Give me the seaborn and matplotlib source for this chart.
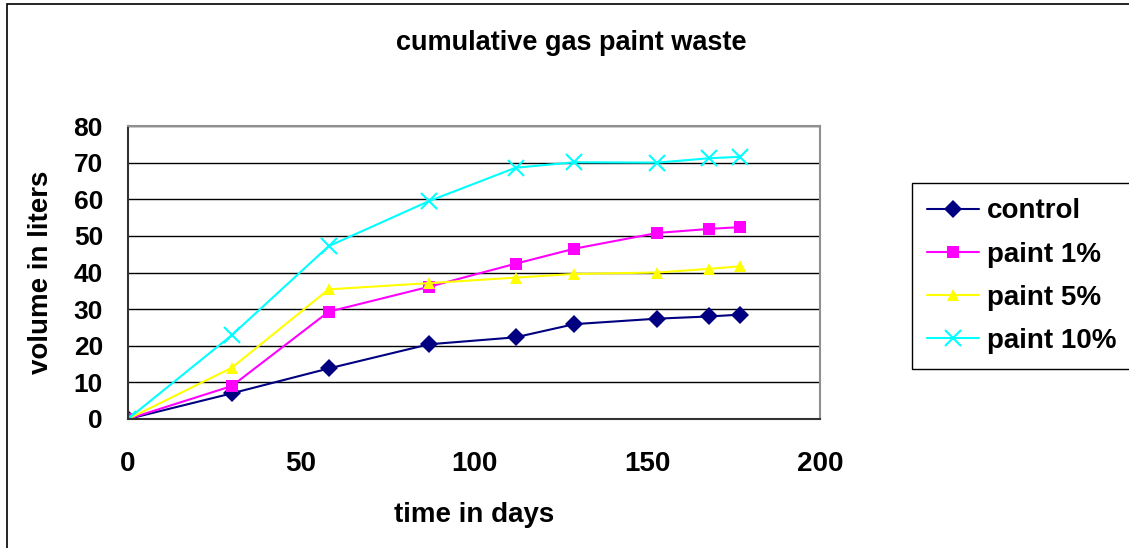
import matplotlib
matplotlib.use("Agg")
import matplotlib.pyplot as plt
import seaborn as sns
import pandas as pd
from matplotlib.patches import Rectangle

days = [0, 30, 58, 87, 112, 129, 153, 168, 177]
control = [0, 7.0, 13.8, 20.4, 22.3, 25.9, 27.4, 28.0, 28.5]
paint1 = [0, 9.0, 29.3, 36.1, 42.4, 46.5, 50.8, 51.9, 52.4]
paint5 = [0, 14.0, 35.4, 37.1, 38.6, 39.6, 40.0, 41.0, 41.7]
paint10 = [0, 22.9, 47.2, 59.5, 68.6, 70.1, 70.0, 71.2, 71.6]
series_names = ["control", "paint 1%", "paint 5%", "paint 10%"]
x_ticks = [0, 50, 100, 150, 200]
y_ticks = [0, 10, 20, 30, 40, 50, 60, 70, 80]

rows = []
for name, vals in zip(series_names, [control, paint1, paint5, paint10]):
    for d, v in zip(days, vals):
        rows.append({"days": d, "volume": v, "series": name})
df = pd.DataFrame(rows)

sns.set_style("white")
plt.rcParams["font.family"] = ["Liberation Sans", "DejaVu Sans"]
for k in ["text.color", "axes.labelcolor", "xtick.color", "ytick.color"]:
    plt.rcParams[k] = "black"

fig = plt.figure(figsize=(11.29, 5.48), dpi=100)
ax = fig.add_axes([128/1129, 1-419/548, (820-128)/1129, (419-126)/548])

palette = {"control": "#000080", "paint 1%": "#FF00FF",
           "paint 5%": "#FFFF00", "paint 10%": "#00FFFF"}
markers = {"control": "D", "paint 1%": "s", "paint 5%": "^", "paint 10%": "X"}
sns.lineplot(data=df, x="days", y="volume", hue="series", style="series",
             palette=palette, markers=markers, dashes=False, ax=ax,
             linewidth=1.5, markersize=9, markeredgewidth=0, sort=False)

def fix_x(line):
    line.set_marker("x")
    line.set_markersize(11)
    line.set_markeredgewidth(1.5)
    line.set_markeredgecolor("#00FFFF")

for line in ax.get_lines():
    if tuple(round(c, 3) for c in matplotlib.colors.to_rgb(line.get_color())) == (0.0, 1.0, 1.0):
        fix_x(line)

ax.set_xlim(0, 200)
ax.set_ylim(0, 80)
ax.set_xticks(x_ticks)
ax.set_yticks(y_ticks)
ax.set_xticklabels([str(t) for t in x_ticks], fontsize=20, fontweight="bold")
ax.set_yticklabels([str(t) for t in y_ticks], fontsize=19, fontweight="bold")
ax.tick_params(axis="x", direction="out", length=7, width=1, color="#333333", pad=16)
ax.tick_params(axis="y", direction="out", length=7, width=1, color="#333333", pad=11)
ax.yaxis.grid(True, color="black", linewidth=1)
ax.set_axisbelow(True)
for s in ["top", "right"]:
    ax.spines[s].set_color("#909090")
    ax.spines[s].set_linewidth(1.5)
for s in ["left", "bottom"]:
    ax.spines[s].set_color("#333333")
    ax.spines[s].set_linewidth(1.5)

ax.set_xlabel("time in days", fontsize=20, fontweight="bold", labelpad=18)
ax.set_ylabel("volume in liters", fontsize=20, fontweight="bold", labelpad=14)

fig.text(571/1129, 1-43/548, "cumulative gas paint waste", fontsize=19.5,
         fontweight="bold", ha="center", va="center")

handles, labels = ax.get_legend_handles_labels()
for h in handles:
    if h.get_label() == "paint 10%":
        fix_x(h)
leg = ax.legend(handles, labels, loc="upper left",
                bbox_to_anchor=(912/1129, 1-183/548), bbox_transform=fig.transFigure,
                frameon=True, fancybox=False, edgecolor="black", framealpha=1,
                prop={"size": 20, "weight": "bold"}, handlelength=1.85,
                labelspacing=0.62, borderpad=0.55, handletextpad=0.3,
                borderaxespad=0)
leg.get_frame().set_linewidth(1)

fig.patches.append(Rectangle((7/1129, -0.1), 1.2, 1 - 4/548 + 0.1,
                             transform=fig.transFigure, fill=False,
                             edgecolor="black", linewidth=1.2))

fig.savefig("out.png", dpi=100)
